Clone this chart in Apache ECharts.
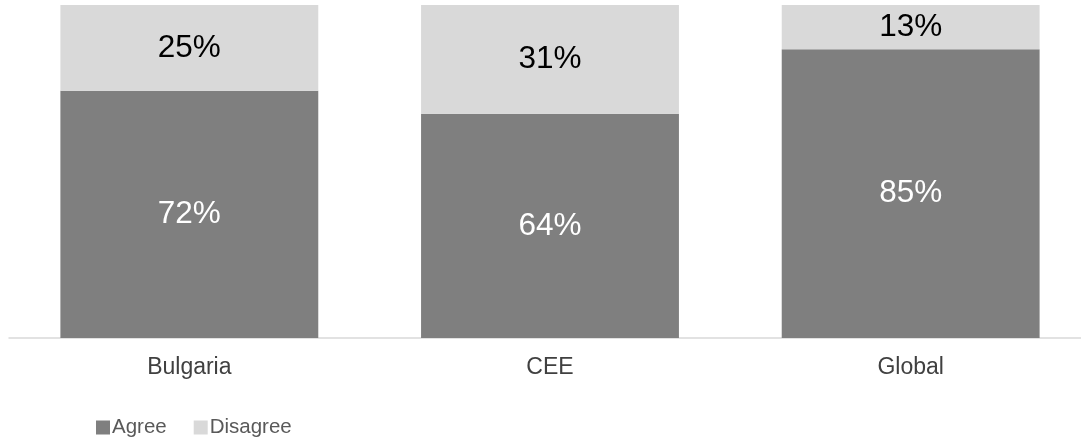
<!DOCTYPE html>
<html>
<head>
<meta charset="utf-8">
<script src="https://cdn.jsdelivr.net/npm/echarts@6/dist/echarts.min.js"></script>
<style>
html,body{margin:0;padding:0;background:#fff;}
#chart{width:1081px;height:440px;}
</style>
</head>
<body>
<div id="chart"></div>
<script>
const categories = ['Bulgaria', 'CEE', 'Global'];
const agree = [72, 64, 85];
const disagree = [25, 31, 13];
const seriesNames = ['Agree', 'Disagree'];

// 100% stacked: each bar normalised to its own total
const totals = categories.map((c, i) => agree[i] + disagree[i]);
const agreeShare = agree.map((v, i) => ({ value: v / totals[i] * 100, raw: v }));
const disagreeShare = disagree.map((v, i) => ({ value: v / totals[i] * 100, raw: v }));

const chart = echarts.init(document.getElementById('chart'), null, { renderer: 'canvas' });
const FONT = 'Liberation Sans, Arial, sans-serif';

chart.setOption({
  animation: false,
  textStyle: { fontFamily: FONT },
  grid: { left: 9, width: 1082, top: 5, bottom: 102, containLabel: false, outerBoundsMode: 'none' },
  legend: {
    left: 91, top: 412,
    icon: 'rect', itemWidth: 14, itemHeight: 14, itemGap: 27,
    textStyle: { fontSize: 20.5, color: '#595959', fontFamily: FONT, padding: [0, 0, 0, -3] },
    data: seriesNames
  },
  xAxis: {
    type: 'category',
    data: categories,
    axisLine: { show: true, lineStyle: { color: '#d9d9d9', width: 1.5 } },
    axisTick: { show: false },
    axisLabel: { fontSize: 23, color: '#404040', margin: 18, fontFamily: FONT }
  },
  yAxis: {
    type: 'value', min: 0, max: 100, interval: 20,
    show: false, splitLine: { show: false }
  },
  series: [
    {
      name: seriesNames[0], type: 'bar', stack: 'total', barWidth: '71.5%',
      itemStyle: { color: '#7f7f7f' },
      label: { show: true, position: 'inside', color: '#ffffff', fontSize: 31.5, fontFamily: FONT,
        formatter: p => p.data.raw + '%' },
      data: agreeShare
    },
    {
      name: seriesNames[1], type: 'bar', stack: 'total', barWidth: '71.5%',
      itemStyle: { color: '#d9d9d9' },
      label: { show: true, position: 'inside', color: '#000000', fontSize: 31.5, fontFamily: FONT,
        formatter: p => p.data.raw + '%' },
      data: disagreeShare
    }
  ]
});
</script>
</body>
</html>
